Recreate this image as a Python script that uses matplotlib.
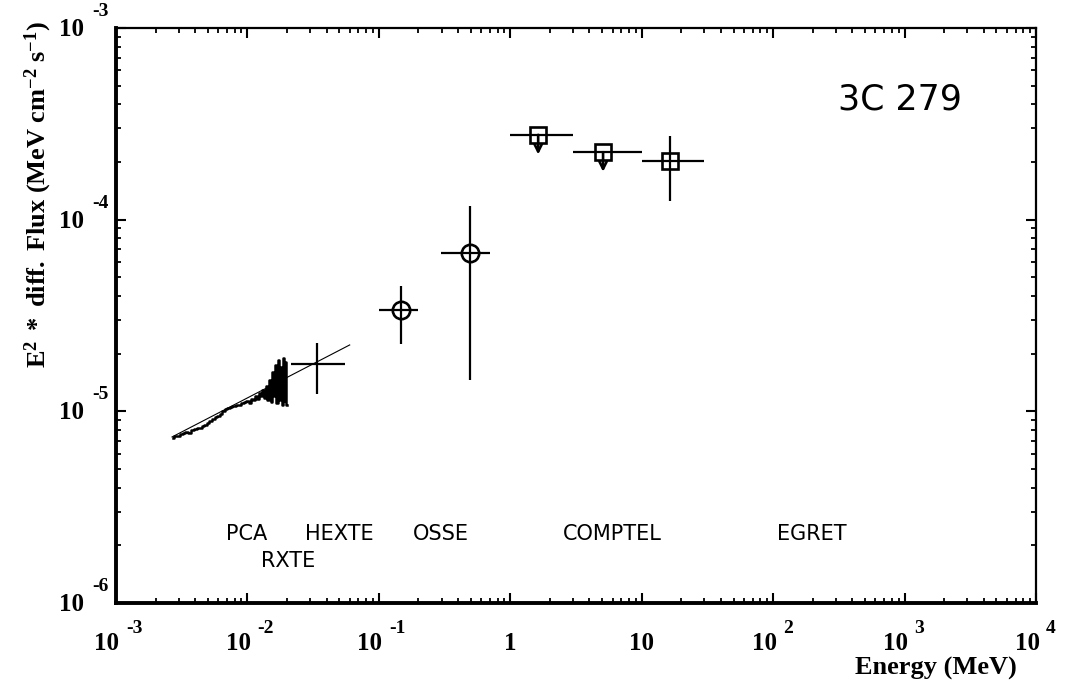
import numpy as np
import matplotlib
matplotlib.use("Agg")
import matplotlib.pyplot as plt
import matplotlib.transforms as mtrans
from matplotlib.ticker import FixedLocator, LogLocator, NullFormatter

# ---------------- data ----------------
# RXTE PCA spectrum (energy in keV, E^2 dN/dE in 1e-6 MeV cm^-2 s^-1)
pca_energy_kev = [2.7, 2.85, 3.0, 3.15, 3.3, 3.45, 3.6, 3.8, 4.0, 4.2, 4.4, 4.6, 4.8, 5.0,
                  5.25, 5.5, 5.75, 6.0, 6.3, 6.6, 6.9, 7.2, 7.5, 7.8, 8.1, 8.4, 8.8, 9.2,
                  9.6, 10.0, 10.4, 10.8, 11.2, 11.6, 12.0, 12.4, 12.8, 13.2, 13.6, 14.0,
                  14.4, 14.8, 15.2, 15.6, 16.0, 16.4, 16.8, 17.2, 17.6, 18.0, 18.4, 18.8,
                  19.2, 19.6, 20.0]
pca_flux_e6 = [7.3, 7.45, 7.4, 7.6, 7.7, 7.8, 7.75, 8.0, 8.1, 8.2, 8.15, 8.35, 8.5, 8.7,
               8.9, 9.1, 9.3, 9.5, 9.7, 10.0, 10.3, 10.4, 10.5, 10.6, 10.7, 10.75, 10.85, 11.0,
               11.2, 11.3, 11.0, 11.6, 11.4, 12.0, 11.6, 12.5, 12.0, 12.9, 11.8, 13.6,
               11.5, 14.5, 11.2, 16.0, 12.0, 17.5, 11.0, 18.5, 11.5, 17.0, 10.8, 19.0,
               11.3, 18.0, 10.8]

# power-law fit line (MeV, flux)
fit_energy = [2.67e-3, 6.0e-2]
fit_flux = [7.35e-6, 2.22e-5]

# HEXTE point
hexte_e = [0.0339]; hexte_elo = [0.0215]; hexte_ehi = [0.0552]
hexte_f = [1.77e-5]; hexte_flo = [1.23e-5]; hexte_fhi = [2.27e-5]

# OSSE points
osse_e = [0.148, 0.494]; osse_elo = [0.1, 0.297]; osse_ehi = [0.2, 0.70]
osse_f = [3.38e-5, 6.7e-5]; osse_flo = [2.25e-5, 1.46e-5]; osse_fhi = [4.51e-5, 1.18e-4]

# COMPTEL upper limits
comptel_ul_e = [1.63, 5.08]; comptel_ul_elo = [1.0, 3.0]; comptel_ul_ehi = [3.0, 10.0]
comptel_ul_f = [2.77e-4, 2.25e-4]

# COMPTEL detection
comptel_e = [16.4]; comptel_elo = [10.0]; comptel_ehi = [30.0]
comptel_f = [2.02e-4]; comptel_flo = [1.25e-4]; comptel_fhi = [2.73e-4]

instrument_labels = ["PCA", "HEXTE", "OSSE", "COMPTEL", "EGRET"]
instrument_label_e = [9.9e-3, 0.0498, 0.297, 5.94, 198.0]
instrument_label_f = 2.29e-6
rxte_label_e = 0.0204
rxte_label_f = 1.66e-6

xtick_vals = [1e-3, 1e-2, 1e-1, 1, 10, 1e2, 1e3, 1e4]
xtick_base = ["10", "10", "10", "1", "10", "10", "10", "10"]
xtick_exp = ["-3", "-2", "-1", "", "", "2", "3", "4"]
ytick_vals = [1e-6, 1e-5, 1e-4, 1e-3]
ytick_exp = ["-6", "-5", "-4", "-3"]

# ---------------- style ----------------
plt.rcParams['mathtext.fontset'] = 'custom'
plt.rcParams['mathtext.rm'] = 'Liberation Serif'
plt.rcParams['mathtext.bf'] = 'Liberation Serif:bold'
plt.rcParams['mathtext.it'] = 'Liberation Serif:italic'

fig = plt.figure(figsize=(10.65, 6.84), dpi=100)
ax = fig.add_axes([0.1089, 0.1184, 0.8639, 0.8407])
ax.set_xscale('log'); ax.set_yscale('log')
ax.set_xlim(1e-3, 1e4); ax.set_ylim(1e-6, 1e-3)

k = 'black'
ebkw = dict(fmt='none', ecolor=k, elinewidth=1.6, capsize=0)

# PCA spectrum
pe = np.array(pca_energy_kev) / 1000.0
pf = np.array(pca_flux_e6) * 1e-6
ax.plot(pe, pf, drawstyle='steps-mid', color=k, lw=1.8)
ax.plot(fit_energy, fit_flux, color=k, lw=0.8)

def xy_err(e, elo, ehi, f, flo, fhi):
    e = np.array(e); f = np.array(f)
    xerr = [e - np.array(elo), np.array(ehi) - e]
    yerr = None if flo is None else [f - np.array(flo), np.array(fhi) - f]
    return xerr, yerr

xe, ye = xy_err(hexte_e, hexte_elo, hexte_ehi, hexte_f, hexte_flo, hexte_fhi)
ax.errorbar(hexte_e, hexte_f, xerr=xe, yerr=ye, **ebkw)

xe, ye = xy_err(osse_e, osse_elo, osse_ehi, osse_f, osse_flo, osse_fhi)
ax.errorbar(osse_e, osse_f, xerr=xe, yerr=ye, **ebkw)
ax.plot(osse_e, osse_f, 'o', ms=12.5, mfc='none', mec=k, mew=1.9)

xe, _ = xy_err(comptel_ul_e, comptel_ul_elo, comptel_ul_ehi, comptel_ul_f, None, None)
ax.errorbar(comptel_ul_e, comptel_ul_f, xerr=xe, **ebkw)
ax.plot(comptel_ul_e, comptel_ul_f, 's', ms=11, mfc='none', mec=k, mew=1.9)
for e, f in zip(comptel_ul_e, comptel_ul_f):
    ax.annotate('', xy=(e, f * 0.79), xytext=(e, f),
                arrowprops=dict(arrowstyle='->', color=k, lw=1.9, mutation_scale=13,
                                shrinkA=0, shrinkB=0))

xe, ye = xy_err(comptel_e, comptel_elo, comptel_ehi, comptel_f, comptel_flo, comptel_fhi)
ax.errorbar(comptel_e, comptel_f, xerr=xe, yerr=ye, **ebkw)
ax.plot(comptel_e, comptel_f, 's', ms=11, mfc='none', mec=k, mew=1.9)

# instrument labels
sans = 'DejaVu Sans'
for lab, e in zip(instrument_labels, instrument_label_e):
    ax.text(e, instrument_label_f, lab, ha='center', va='center', fontsize=15,
            family=sans)
ax.text(rxte_label_e, rxte_label_f, "RXTE", ha='center', va='center', fontsize=15,
        family=sans)
ax.text(900 / 1065, 1 - 100 / 684, "3C 279", transform=fig.transFigure, ha='center',
        va='center', fontsize=25, family=sans)

# ticks
ax.xaxis.set_major_locator(FixedLocator(xtick_vals))
ax.yaxis.set_major_locator(FixedLocator(ytick_vals))
ax.xaxis.set_minor_locator(LogLocator(base=10, subs=np.arange(2, 10), numticks=20))
ax.yaxis.set_minor_locator(LogLocator(base=10, subs=np.arange(2, 10), numticks=20))
for a in (ax.xaxis, ax.yaxis):
    a.set_major_formatter(NullFormatter())
    a.set_minor_formatter(NullFormatter())
ax.tick_params(which='both', direction='in', top=True, right=True, color=k)
ax.tick_params(which='major', length=7, width=1.5)
ax.tick_params(which='minor', length=3.5, width=1.3)

# hand-placed tick labels in the "10  ^-3" style
serif = 'Liberation Serif'
def off(dx_px, dy_px):
    return mtrans.ScaledTranslation(dx_px / 100.0, -dy_px / 100.0, fig.dpi_scale_trans)

base_fs = 18
exp_fs = 14
xbt = mtrans.blended_transform_factory(ax.transData, ax.transAxes)
for v, b, ex in zip(xtick_vals, xtick_base, xtick_exp):
    if ex:
        ax.text(v, 0, b, transform=xbt + off(-9, 47), ha='center', va='baseline',
                fontsize=base_fs, fontweight='bold', family=serif, clip_on=False)
        ax.text(v, 0, ex, transform=xbt + off(10, 30), ha='left', va='baseline',
                fontsize=exp_fs, fontweight='bold', family=serif, clip_on=False)
    else:
        ax.text(v, 0, b, transform=xbt + off(0, 47), ha='center', va='baseline',
                fontsize=base_fs, fontweight='bold', family=serif, clip_on=False)

ybt = mtrans.blended_transform_factory(ax.transAxes, ax.transData)
for v, ex in zip(ytick_vals, ytick_exp):
    ax.text(0, v, "10", transform=ybt + off(-32, 8), ha='right', va='baseline',
            fontsize=base_fs, fontweight='bold', family=serif, clip_on=False)
    ax.text(0, v, ex, transform=ybt + off(-24, -12), ha='left', va='baseline',
            fontsize=exp_fs, fontweight='bold', family=serif, clip_on=False)

ax.spines['left'].set_linewidth(2.8)
ax.spines['bottom'].set_linewidth(2.8)
ax.spines['top'].set_linewidth(1.6)
ax.spines['right'].set_linewidth(1.6)

fig.text(38 / 1065, 1 - 195 / 684,
         r"$\mathbf{E^{2}\ *\ diff.\ Flux\ (MeV\ cm^{-2}\ s^{-1})}$",
         rotation=90, ha='center', va='center', fontsize=19)
fig.text(936 / 1065, 1 - 668 / 684, "Energy (MeV)", ha='center', va='center',
         fontsize=19, family=serif, fontweight='bold')

fig.savefig('out.png', dpi=100)
